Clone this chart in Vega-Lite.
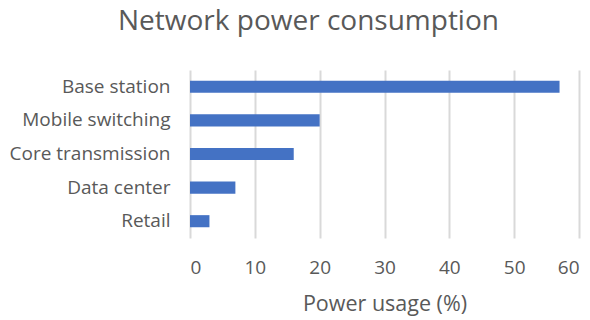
{
  "$schema": "https://vega.github.io/schema/vega-lite/v6.json",
  "autosize": "none",
  "padding": {"left": 190, "top": 70, "right": 11, "bottom": 82},
  "width": 389,
  "height": 168,
  "background": "white",
  "title": {
    "text": "Network power consumption",
    "font": "Open Sans",
    "fontSize": 28,
    "fontWeight": "normal",
    "color": "#595959",
    "anchor": "middle",
    "dx": -76,
    "offset": 34
  },
  "data": {
    "values": [
      {"category": "Base station", "usage": 57},
      {"category": "Mobile switching", "usage": 20},
      {"category": "Core transmission", "usage": 16},
      {"category": "Data center", "usage": 7},
      {"category": "Retail", "usage": 3}
    ]
  },
  "mark": {"type": "bar", "color": "#4472C4"},
  "encoding": {
    "y": {
      "field": "category",
      "type": "nominal",
      "sort": null,
      "scale": {"paddingInner": 0.64, "paddingOuter": 0.32},
      "axis": {
        "title": null,
        "domain": false,
        "ticks": false,
        "grid": false,
        "labelFont": "Open Sans",
        "labelFontSize": 19,
        "labelColor": "#595959",
        "labelPadding": 20
      }
    },
    "x": {
      "field": "usage",
      "type": "quantitative",
      "scale": {"domain": [0, 60], "nice": false},
      "axis": {
        "title": "Power usage (%)",
        "values": [0, 10, 20, 30, 40, 50, 60],
        "domain": false,
        "ticks": false,
        "grid": true,
        "gridColor": "#d9d9d9",
        "gridWidth": 2,
        "labelFont": "Open Sans",
        "labelFontSize": 19,
        "labelColor": "#595959",
        "labelPadding": 20,
        "titleFont": "Open Sans",
        "titleFontSize": 21.5,
        "titleFontWeight": "normal",
        "titleColor": "#595959",
        "titlePadding": 16
      }
    }
  },
  "config": {"view": {"stroke": null}}
}
